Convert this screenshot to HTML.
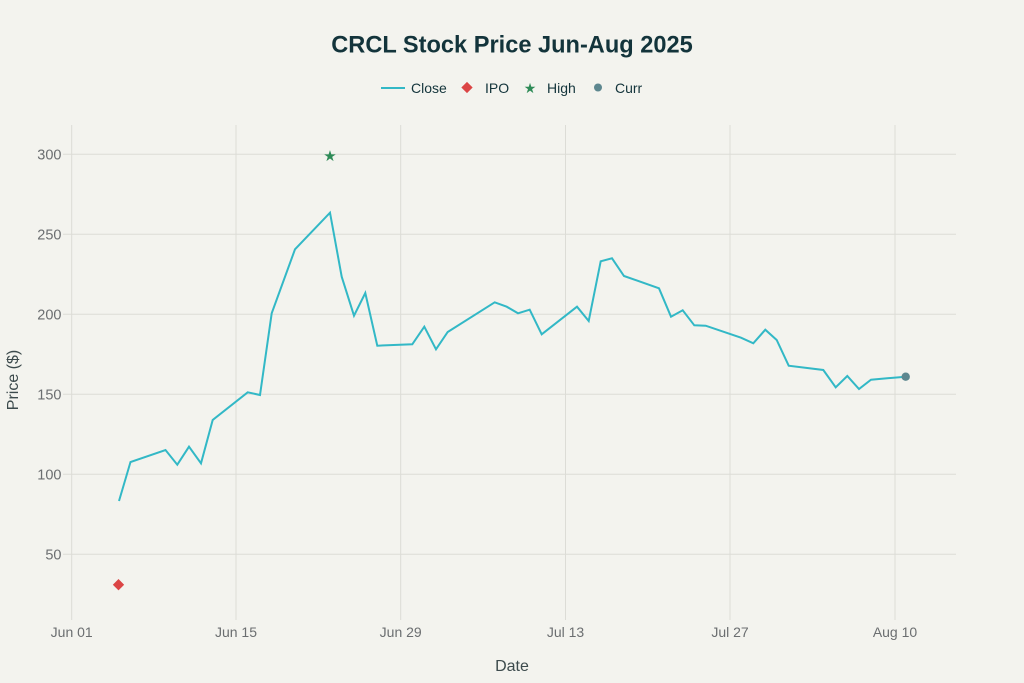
<!DOCTYPE html>
<html>
<head>
<meta charset="utf-8">
<style>
  html,body{margin:0;padding:0;background:#f3f3ee;}
  svg{display:block;}
  text{font-family:"Liberation Sans",sans-serif;}
</style>
</head>
<body>
<svg width="1024" height="683" viewBox="0 0 1024 683" xmlns="http://www.w3.org/2000/svg">
  <rect x="0" y="0" width="1024" height="683" fill="#f3f3ee"/>

  <!-- Title -->
  <text x="512" y="52.5" text-anchor="middle" font-size="23.6" font-weight="bold" fill="#13343b">CRCL Stock Price Jun-Aug 2025</text>

  <!-- Legend -->
  <line x1="381" y1="88" x2="405" y2="88" stroke="#32b8c6" stroke-width="2"/>
  <text x="411" y="93" font-size="14" fill="#13343b">Close</text>
  <rect x="463" y="83.5" width="8" height="8" fill="#db4545" transform="rotate(45 467 87.5)"/>
  <text x="485" y="93" font-size="14" fill="#13343b">IPO</text>
  <text x="530" y="93" font-size="14" fill="#2e8b57" text-anchor="middle">★</text>
  <text x="547" y="93" font-size="14" fill="#13343b">High</text>
  <circle cx="598" cy="87.5" r="4" fill="#5d878f"/>
  <text x="615" y="93" font-size="14" fill="#13343b">Curr</text>

  <!-- Grid horizontal -->
  <g stroke="#dcdcd6" stroke-width="1">
    <line x1="63" y1="154.3" x2="956" y2="154.3"/>
    <line x1="63" y1="234.3" x2="956" y2="234.3"/>
    <line x1="63" y1="314.3" x2="956" y2="314.3"/>
    <line x1="63" y1="394.3" x2="956" y2="394.3"/>
    <line x1="63" y1="474.3" x2="956" y2="474.3"/>
    <line x1="63" y1="554.3" x2="956" y2="554.3"/>
  </g>
  <!-- Grid vertical -->
  <g stroke="#dcdcd6" stroke-width="1">
    <line x1="71.7" y1="125" x2="71.7" y2="620"/>
    <line x1="236" y1="125" x2="236" y2="620"/>
    <line x1="400.7" y1="125" x2="400.7" y2="620"/>
    <line x1="565.5" y1="125" x2="565.5" y2="620"/>
    <line x1="730" y1="125" x2="730" y2="620"/>
    <line x1="895" y1="125" x2="895" y2="620"/>
  </g>

  <!-- Y tick labels -->
  <g font-size="14.5" fill="#6b6e70" text-anchor="end">
    <text x="61.5" y="159.5">300</text>
    <text x="61.5" y="239.5">250</text>
    <text x="61.5" y="319.5">200</text>
    <text x="61.5" y="399.5">150</text>
    <text x="61.5" y="479.5">100</text>
    <text x="61.5" y="559.5">50</text>
  </g>

  <!-- X tick labels -->
  <g font-size="14" fill="#6b6e70" text-anchor="middle">
    <text x="71.7" y="637">Jun 01</text>
    <text x="236" y="637">Jun 15</text>
    <text x="400.7" y="637">Jun 29</text>
    <text x="565.5" y="637">Jul 13</text>
    <text x="730" y="637">Jul 27</text>
    <text x="895" y="637">Aug 10</text>
  </g>

  <!-- Axis titles -->
  <text x="512" y="671" text-anchor="middle" font-size="16" fill="#3c4a4c">Date</text>
  <text x="0" y="0" text-anchor="middle" font-size="16" fill="#3c4a4c" transform="translate(18 380) rotate(-90)">Price ($)</text>

  <!-- Close line -->
  <polyline fill="none" stroke="#32b8c6" stroke-width="2" stroke-linejoin="miter"
    points="119,501 130.5,462 165.5,450 177.3,464.7 189,446.7 201,463.3 212.7,420 247.7,392.3 260,395 271.7,313.3 295,249.3 330,212.7 341.7,276.7 354,315.7 365.3,293 377.3,345.7 412.3,344.3 424.3,326.7 436,349.3 447.7,332 494.7,302.3 506.7,306.7 518,313.3 529.7,309.7 541.7,334.3 577,306.7 588.7,321 600.7,261.3 612,258.3 624,276 659,288.3 671,316.7 682.7,310.3 694.3,325.3 705.7,325.7 741,337.7 753.3,343.3 765.3,329.7 776.7,340 788.7,365.7 823.3,370 835.7,387.3 847.3,376 859,389 871,379.7 905.7,376.7"/>

  <!-- IPO marker -->
  <rect x="114.5" y="580.7" width="8" height="8" fill="#db4545" transform="rotate(45 118.5 584.7)"/>

  <!-- High marker -->
  <text x="330" y="161" font-size="15" fill="#2e8b57" text-anchor="middle">★</text>

  <!-- Current marker -->
  <circle cx="905.7" cy="376.7" r="4.2" fill="#5d878f"/>
</svg>
</body>
</html>
